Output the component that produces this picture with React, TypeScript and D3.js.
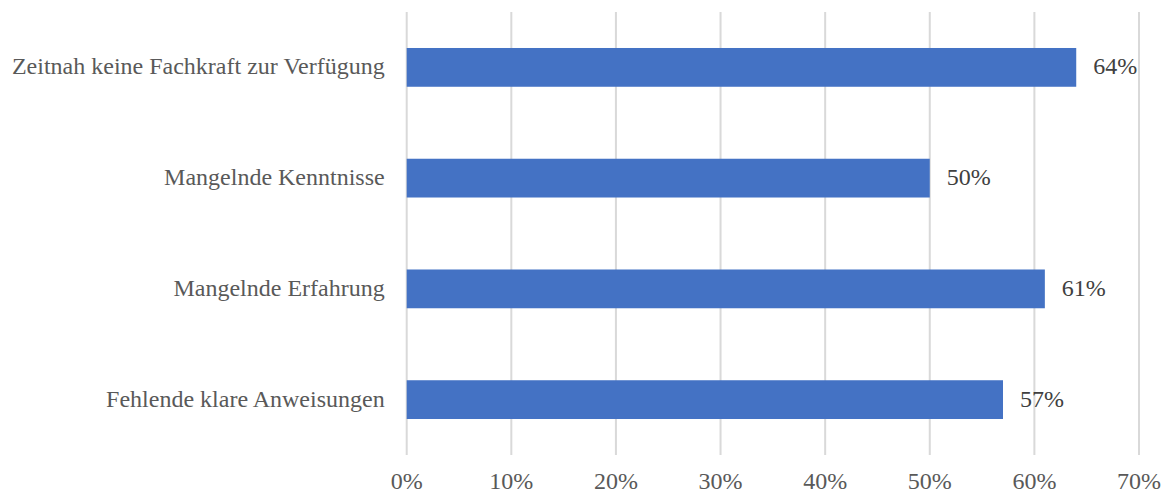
import React from "react";
import * as d3 from "d3";

const categories = [
  "Zeitnah keine Fachkraft zur Verfügung",
  "Mangelnde Kenntnisse",
  "Mangelnde Erfahrung",
  "Fehlende klare Anweisungen",
];
const values = [0.64, 0.5, 0.61, 0.57];
const ticks = [0, 0.1, 0.2, 0.3, 0.4, 0.5, 0.6, 0.7];

const W = 1169;
const H = 494;
const left = 406.7;
const right = 1139;
const top = 12;
const bottom = 455;
const font = '"Liberation Serif", "Times New Roman", "DejaVu Serif", serif';

export default function App() {
  const x = d3.scaleLinear().domain([0, 0.7]).range([left, right]);
  const y = d3
    .scaleBand<string>()
    .domain(categories)
    .range([top, bottom])
    .paddingInner(0.65)
    .paddingOuter(0.325);
  const fmt = d3.format(".0%");
  return (
    <svg
      width={W}
      height={H}
      style={{ position: "absolute", left: 0, top: 0, background: "#fff", fontFamily: font }}
    >
      {ticks.map((t) => (
        <line
          key={t}
          x1={x(t)}
          x2={x(t)}
          y1={top}
          y2={bottom}
          stroke="#d9d9d9"
          strokeWidth={2}
        />
      ))}
      {categories.map((c, i) => (
        <g key={c}>
          <rect
            x={x(0)}
            y={y(c)}
            width={x(values[i]) - x(0)}
            height={y.bandwidth()}
            fill="#4472c4"
          />
          <text
            x={x(0) - 22}
            y={y(c)! + y.bandwidth() / 2 + 7}
            textAnchor="end"
            fontSize={24}
            fill="#595959"
            style={{ fontFamily: font }}
          >
            {c}
          </text>
          <text
            x={x(values[i]) + 17}
            y={y(c)! + y.bandwidth() / 2 + 7}
            fontSize={24}
            fill="#404040"
            style={{ fontFamily: font }}
          >
            {fmt(values[i])}
          </text>
        </g>
      ))}
      {ticks.map((t) => (
        <text
          key={"l" + t}
          x={x(t)}
          y={489}
          textAnchor="middle"
          fontSize={24}
          fill="#595959"
          style={{ fontFamily: font }}
        >
          {fmt(t)}
        </text>
      ))}
    </svg>
  );
}
